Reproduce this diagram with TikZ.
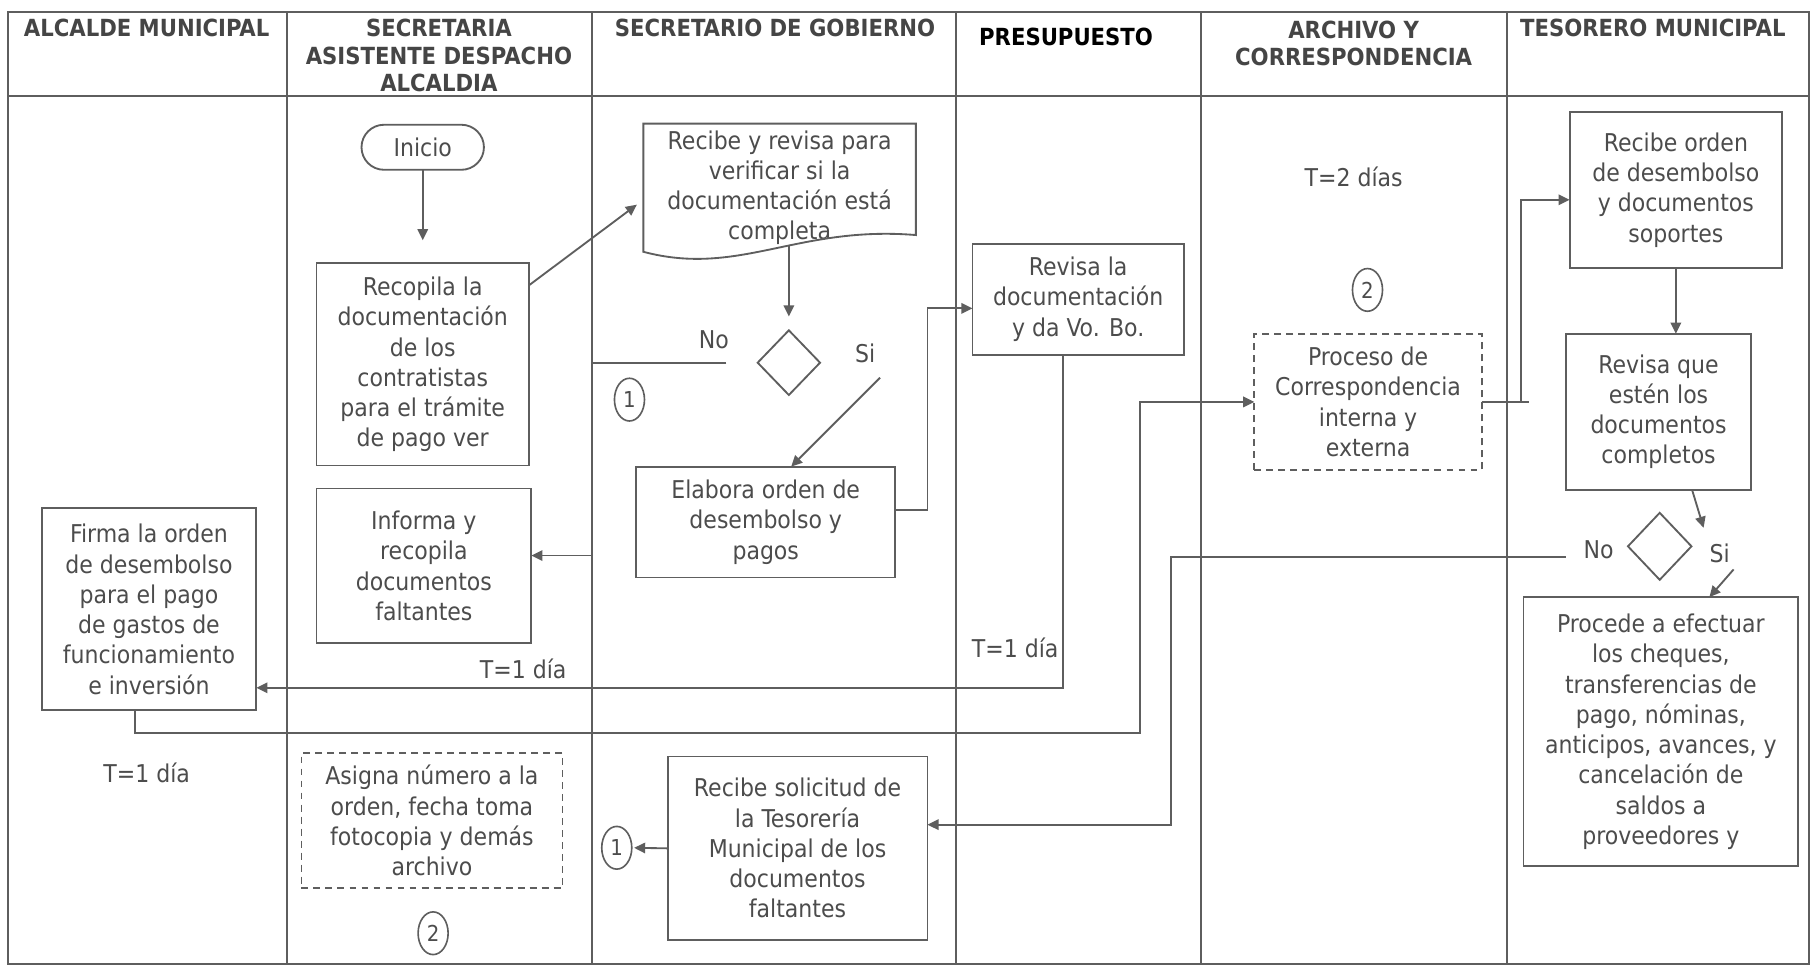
\documentclass[tikz,border=0pt]{standalone}
\usepackage{fontspec}
\setmainfont{DejaVu Sans Condensed}
\usetikzlibrary{arrows.meta,shapes.geometric}
\definecolor{inkgray}{HTML}{4C4C4C}
\definecolor{headgray}{HTML}{454545}
\definecolor{linegray}{HTML}{5E5E5E}
\begin{document}
\begin{tikzpicture}[x=0.5pt,y=-0.5pt,
  every node/.style={inner sep=0pt, outer sep=0pt},
  txt/.style={font=\fontsize{10.6}{13.1}\selectfont, text=inkgray, align=center},
  box/.style={txt, draw=linegray, line width=0.8pt, rectangle},
  dbox/.style={box, dash pattern=on 3pt off 2.2pt},
  term/.style={box, rounded corners=9.75pt},
  dec/.style={draw=linegray, line width=0.8pt, diamond, minimum width=27pt, minimum height=28pt},
  conn/.style={txt, font=\fontsize{9.5}{11}\selectfont, draw=linegray, line width=0.7pt, ellipse, minimum width=13pt, minimum height=18.5pt},
  lbl/.style={txt},
  head/.style={font=\fontsize{10.2}{11.75}\selectfont\bfseries, text=headgray, align=center},
  wire/.style={draw=linegray, line width=0.8pt},
  arr/.style={wire, -{Triangle[length=4.8pt,width=4.5pt]}},
  lane/.style={draw=linegray, line width=0.9pt}
]
% canvas
\fill[white] (0,0) rectangle (1568,837.2);
\useasboundingbox (0,0) rectangle (1568,837.2);

% swimlane frame, header row and lane dividers
\draw[lane] (7,10) rectangle (1566,834.5);
\draw[lane] (7,83) -- (1566,83);
\foreach \lx in {248.5,512.5,828,1040,1305} \draw[lane] (\lx,10) -- (\lx,834.5);
\coordinate (laneB) at (512.5,0);

% lane titles
\node[head] (hA) at (127,24) {ALCALDE MUNICIPAL};
\node[head] (hB) at (380,48) {SECRETARIA\\ASISTENTE DESPACHO\\ALCALDIA};
\node[head] (hC) at (671,24) {SECRETARIO DE GOBIERNO};
\node[head, text=black] (hD) at (923,32) {PRESUPUESTO};
\node[head] (hE) at (1172,37.5) {ARCHIVO Y\\CORRESPONDENCIA};
\node[head] (hF) at (1431,24) {TESORERO MUNICIPAL};

% process steps
\node[term, minimum width=53pt, minimum height=19.5pt] (inicio) at (366,127.5) {Inicio};
\node[box, minimum width=92pt, minimum height=87.5pt] (recop) at (366,315.5)
  {Recopila la\\documentación\\de los\\contratistas\\para el trámite\\de pago ver};
\node[txt, minimum width=118pt, minimum height=55.5pt] (recibe) at (675,162.5)
  {Recibe y revisa para\\verificar si la\\documentación está\\completa};
\draw[wire] (recibe.north west) -- (recibe.north east) -- ([yshift=7.25pt]recibe.south east)
  .. controls (690,195) and (640,240) .. (recibe.south west) -- cycle;
\node[dec] (dec1) at (683,314) {};
\node[lbl] (no1) at (618,294) {No};
\node[lbl] (si1) at (749,306) {Si};
\node[conn] (c1a) at (545,346) {1};
\node[box, minimum width=112pt, minimum height=48pt] (elab) at (663,452)
  {Elabora orden de\\desembolso y\\pagos};
\node[box, minimum width=91.5pt, minimum height=48pt] (revisa) at (933.5,259)
  {Revisa la\\documentación\\y da Vo. Bo.};
\node[box, minimum width=93pt, minimum height=67pt] (inform) at (367,490)
  {Informa y\\recopila\\documentos\\faltantes};
\node[box, minimum width=93pt, minimum height=87.5pt] (firma) at (129,527.5)
  {Firma la orden\\de desembolso\\para el pago\\de gastos de\\funcionamiento\\e inversión};
\node[dbox, minimum width=98.5pt, minimum height=59pt] (proceso) at (1184.5,348)
  {Proceso de\\Correspondencia\\interna y\\externa};
\node[conn] (c2a) at (1184,251) {2};
\node[lbl] (t2) at (1172,153) {T=2 días};
\node[box, minimum width=92pt, minimum height=67.5pt] (recorden) at (1451,164.5)
  {Recibe orden\\de desembolso\\y documentos\\soportes};
\node[box, minimum width=80pt, minimum height=67.5pt] (revque) at (1436,356.5)
  {Revisa que\\estén los\\documentos\\completos};
\node[dec, minimum width=27.5pt, minimum height=29pt] (dec2) at (1437,473) {};
\node[lbl] (no2) at (1384,476) {No};
\node[lbl] (si2) at (1489,479) {Si};
\node[box, minimum width=119pt, minimum height=116.5pt] (procede) at (1438,633.5)
  {Procede a efectuar\\los cheques,\\transferencias de\\pago, nóminas,\\anticipos, avances, y\\cancelación de\\saldos a\\proveedores y};
\node[box, minimum width=112.5pt, minimum height=79.5pt] (recsol) at (690.5,734.5)
  {Recibe solicitud de\\la Tesorería\\Municipal de los\\documentos\\faltantes};
\node[conn] (c1b) at (534,734) {1};
\node[dbox, minimum width=113pt, minimum height=58.5pt] (asigna) at (374,710.5)
  {Asigna número a la\\orden, fecha toma\\fotocopia y demás\\archivo};
\node[conn] (c2b) at (375,808) {2};
\node[lbl] (t1a) at (127,669) {T=1 día};
\node[lbl] (t1b) at (453,579) {T=1 día};
\node[lbl] (t1c) at (879,561) {T=1 día};

% corner points of the long connectors
\coordinate (jF) at (987,634.5);
\coordinate (jN) at (1014,482);

% connectors
\draw[arr, shorten >=10pt] (inicio.south) -- (inicio.south |- recop.north);
\draw[arr, shorten >=3.5pt] ([yshift=34.25pt]recop.east) -- ([yshift=-5.25pt]recibe.west);
\draw[arr, shorten >=6pt] ([yshift=2.5pt]recibe.south -| dec1.north) -- (dec1.north);
\draw[arr] ([xshift=-13.5pt]dec1.west) -- (dec1.west -| laneB)
  -- ([yshift=4.5pt]inform.east -| laneB) -- ([yshift=4.5pt]inform.east);
\draw[arr] ([shift={(39.5pt,-6.5pt)}]dec1.center) -- ([xshift=11pt]elab.north);
\draw[arr] ([yshift=5.25pt]elab.east) -- ++(14pt,0) |- ([yshift=-4pt]revisa.west);
\draw[arr] ([xshift=-6.75pt]revisa.south) |- ([yshift=-34pt]firma.east);
\draw[arr] ([xshift=-6pt]firma.south) |- (jF) |- (proceso.west);
\draw[wire] (proceso.east) -- ++(20.5pt,0);
\draw[arr] (proceso.east) -- ++(17pt,0) |- ([yshift=-4.25pt]recorden.west);
\draw[arr] (recorden.south) -- (recorden.south |- revque.north);
\draw[arr] ([xshift=14.5pt]revque.south) -- ([shift={(19pt,8pt)}]dec2.center);
\draw[arr] ([shift={(-27pt,-4.5pt)}]dec2.west) -- (jN) |- ([yshift=10.25pt]recsol.east);
\draw[arr] ([shift={(32pt,-10pt)}]dec2.center) -- ([xshift=21pt]procede.north);
\draw[arr, shorten >=1pt] (recsol.west) -- (c1b.east);
\end{tikzpicture}
\end{document}
